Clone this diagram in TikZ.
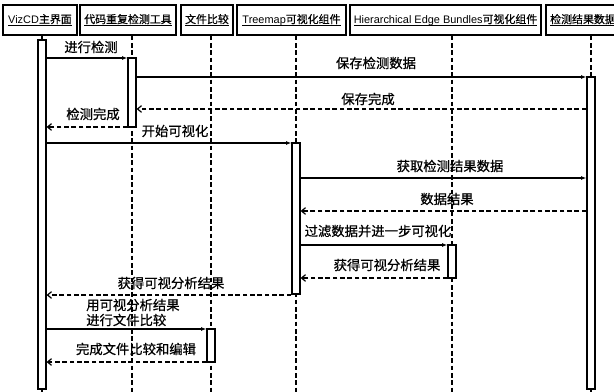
\documentclass[tikz,border=0pt]{standalone}
\usepackage{fontspec}
\setmainfont{Liberation Sans}
\newfontfamily\cjk[FakeBold=0.6]{Noto Sans CJK SC}
\newcommand\hul[1]{\setbox0\hbox{#1}\rlap{\copy0}\raisebox{-2pt}{\rule{\wd0}{0.6pt}}}
\usetikzlibrary{arrows.meta,fit}
\begin{document}
\begin{tikzpicture}[x=0.75pt,y=-0.75pt,
 head/.style={draw,line width=1.1pt,minimum height=22.5pt,inner sep=0pt,font=\fontsize{8.2}{10}\selectfont},
 life/.style={dash pattern=on 3.5pt off 2pt,line width=0.8pt},
 bar/.style={draw,fill=white,line width=0.9pt,inner sep=0pt},
 call/.style={line width=0.9pt,-{Latex[length=4pt,width=3pt]}},
 ret/.style={line width=0.9pt,dash pattern=on 3.5pt off 2pt,-{Straight Barb[length=3pt,width=5pt]}},
 lbl/.style={font=\cjk\fontsize{10}{12}\selectfont,inner sep=0pt}]
\useasboundingbox (0,0) rectangle (614,392);
\clip (0,0) rectangle (614,392);
\fill[white] (0,0) rectangle (614,392);
% headers
\node[head,minimum width=55.5pt] (h1) at (40,20) {\hul{VizCD{\cjk 主界面}}};
\node[head,minimum width=72pt] (h2) at (128,20) {\hul{\cjk 代码重复检测工具}};
\node[head,minimum width=39pt] (h3) at (207,20) {\hul{\cjk 文件比较}};
\node[head,minimum width=81.75pt] (h4) at (291.5,20) {\hul{Treemap{\cjk 可视化组件}}};
\node[head,minimum width=143.25pt] (h5) at (445.5,20) {\hul{Hierarchical Edge Bundles{\cjk 可视化组件}}};
\node[head,minimum width=55.5pt] (h6) at (583,20) {\hul{\cjk 检测结果数据}};
% lifelines
\coordinate (e1) at (42,392);
\coordinate (e2) at (132,392);
\coordinate (e3) at (211,392);
\coordinate (e4) at (296,392);
\coordinate (e5) at (452,392);
\coordinate (e6) at (591,392);
\foreach \i in {1,...,6} \draw[life] (h\i.south -| e\i) -- (e\i);
% activation bars
\node[bar,fit={(38,40) (46,389)}] (b1) {};
\node[bar,fit={(128,58) (136,127)}] (b2) {};
\node[bar,fit={(587,77) (595,389)}] (b6) {};
\node[bar,fit={(292,143) (300,294)}] (b4) {};
\node[bar,fit={(448,245) (456,278)}] (b5) {};
\node[bar,fit={(207,329) (215,362)}] (b3) {};
% message heights
\coordinate (y1) at (0,58);
\coordinate (y2) at (0,77);
\coordinate (y3) at (0,109);
\coordinate (y4) at (0,127);
\coordinate (y5) at (0,143);
\coordinate (y6) at (0,178);
\coordinate (y7) at (0,211);
\coordinate (y8) at (0,245);
\coordinate (y9) at (0,278);
\coordinate (y10) at (0,295);
\coordinate (y11) at (0,329);
\coordinate (y12) at (0,362);
% messages
\draw[call] (b1.east |- y1) -- (b2.west |- y1);
\draw[call] (b2.east |- y2) -- (b6.west |- y2);
\draw[ret] (b6.west |- y3) -- (b2.east |- y3);
\draw[ret] (b2.west |- y4) -- (b1.east |- y4);
\draw[call] (b1.east |- y5) -- (b4.west |- y5);
\draw[call] (b4.east |- y6) -- (b6.west |- y6);
\draw[ret] (b6.west |- y7) -- (b4.east |- y7);
\draw[call] (b4.east |- y8) -- (b5.west |- y8);
\draw[ret] (b5.west |- y9) -- (b4.east |- y9);
\draw[ret] (b4.west |- y10) -- (b1.east |- y10);
\draw[call] (b1.east |- y11) -- (b3.west |- y11);
\draw[ret] (b3.west |- y12) -- (b1.east |- y12);
% labels
\node[lbl] (l1) at (91,47) {进行检测};
\node[lbl] (l2) at (376,63) {保存检测数据};
\node[lbl] (l3) at (368,99) {保存完成};
\node[lbl] (l4) at (93,114) {检测完成};
\node[lbl] (l5) at (175,131) {开始可视化};
\node[lbl] (l6) at (450,166) {获取检测结果数据};
\node[lbl] (l7) at (447,199) {数据结果};
\node[lbl] (l8) at (378,231) {过滤数据并进一步可视化};
\node[lbl] (l9) at (387,265) {获得可视分析结果};
\node[lbl] (l10) at (171,283) {获得可视分析结果};
\node[lbl,anchor=west] (l11a) at (86,305) {用可视分析结果};
\node[lbl,anchor=west] (l11b) at (86,320) {进行文件比较};
\node[lbl] (l12) at (136,349) {完成文件比较和编辑};
\end{tikzpicture}
\end{document}
